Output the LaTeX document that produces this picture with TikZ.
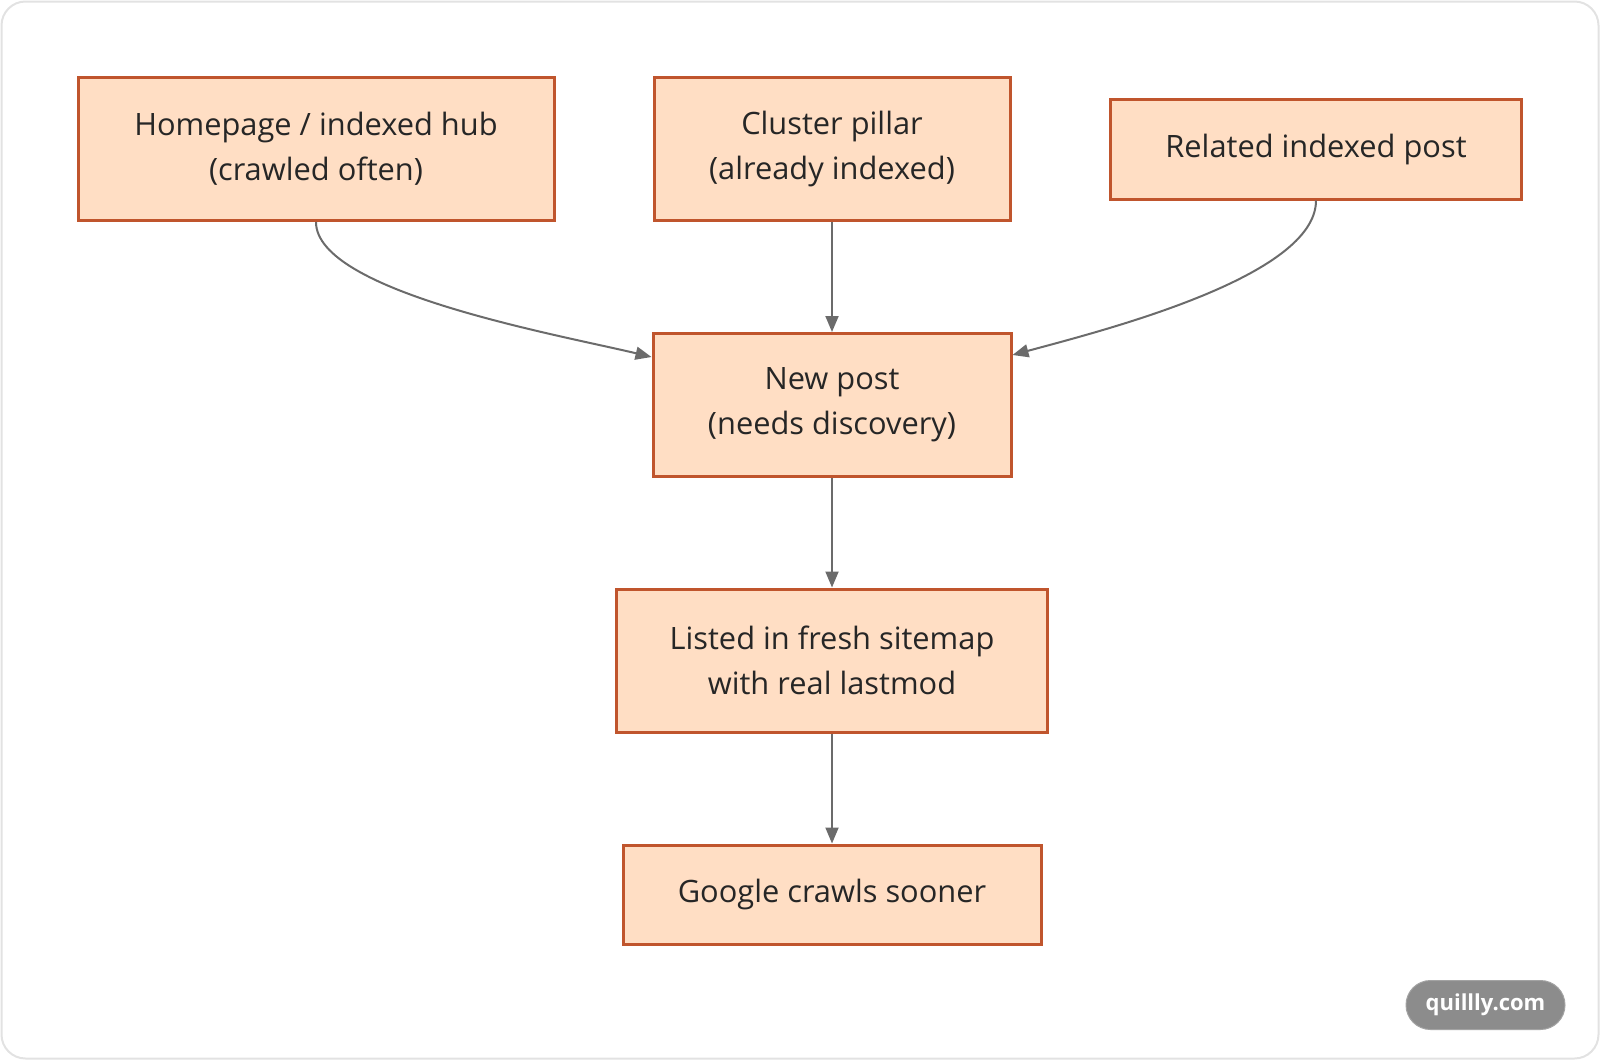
\documentclass[tikz,border=0pt]{standalone}
\usepackage{fontspec}
\setmainfont{Open Sans}
\usepackage{xcolor}
\usetikzlibrary{arrows.meta,positioning,calc}

\definecolor{boxfill}{HTML}{FFDEC4}
\definecolor{boxline}{HTML}{C0552D}
\definecolor{linkgray}{HTML}{6B6B6B}
\definecolor{framegray}{HTML}{E2E2E2}
\definecolor{pillgray}{HTML}{8C8C8C}

\begin{document}
\begin{tikzpicture}[
    x=0.5pt, y=-0.5pt,
    flowbox/.style={rectangle, draw=boxline, fill=boxfill, line width=1.5pt, align=center, inner sep=0pt, font=\fontsize{15.4}{22.3}\selectfont, text=black!85},
    link/.style={-{Triangle[length=8pt, width=6.5pt]}, line width=1pt, color=linkgray},
  ]

    % canvas and outer frame
    \useasboundingbox (0,0) rectangle (1600,1060);
    \draw[framegray, line width=1pt, rounded corners=12pt] (1.5,1.5) rectangle (1598.5,1058.5);

    % sources
    \node[flowbox, minimum width=238pt, minimum height=71.5pt] (hub) at (316,149) {Homepage / indexed hub\\(crawled often)};
    \node[flowbox, minimum width=178pt, minimum height=71.5pt] (pillar) at (832,149) {Cluster pillar\\(already indexed)};
    \node[flowbox, minimum width=205.5pt, minimum height=50pt] (related) at (1316,149) {Related indexed post};

    % target and follow-up steps
    \node[flowbox, minimum width=179pt, minimum height=71.5pt] (newpost) at (832,405) {New post\\(needs discovery)};
    \node[flowbox, minimum width=215.5pt, minimum height=71.5pt] (sitemap) at (832,660.5) {Listed in fresh sitemap\\with real lastmod};
    \node[flowbox, minimum width=209pt, minimum height=49.5pt] (google) at (832,894.5) {Google crawls sooner};

    % links
    \coordinate (inleft) at ($(newpost.west)+(0,-48)$);
    \coordinate (inright) at ($(newpost.east)+(0,-50)$);
    \draw[link] (hub.south) .. controls ++(0,70) and (560,335) .. (inleft);
    \draw[link] (related.south) .. controls ++(0,76) and (1105,330) .. (inright);
    \draw[link] (pillar) -- (newpost);
    \draw[link] (newpost) -- (sitemap);
    \draw[link] (sitemap) -- (google);

    % watermark
    \node[rectangle, rounded corners=12.25pt, fill=pillgray, draw=pillgray!80, line width=0.5pt, minimum width=79.5pt, minimum height=24.5pt, inner sep=0pt, text=white, font=\fontsize{11}{13}\selectfont\bfseries] (mark) at (1485.5,1005) {quillly.com};

  \end{tikzpicture}
\end{document}
